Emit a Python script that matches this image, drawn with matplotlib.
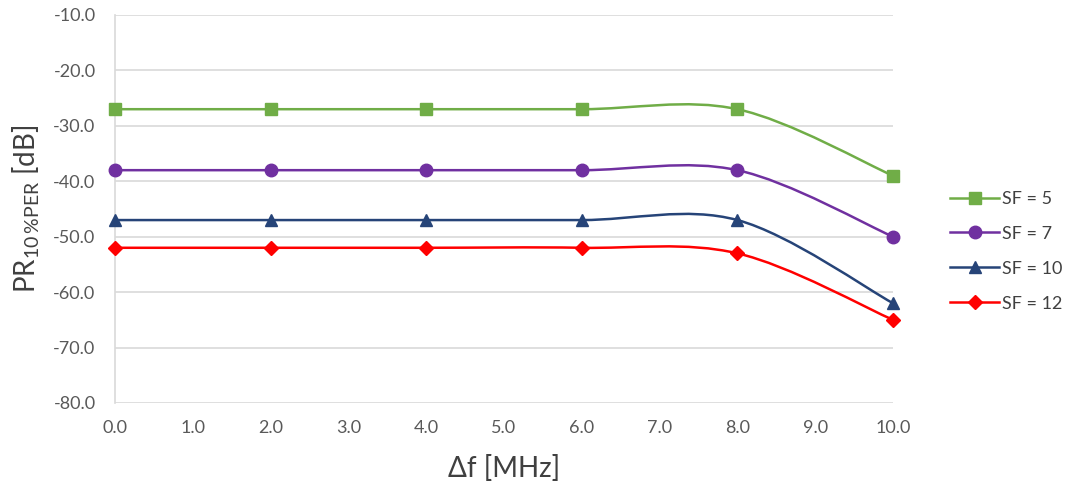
import matplotlib
matplotlib.use("Agg")
import matplotlib.pyplot as plt
from matplotlib.path import Path
from matplotlib.patches import PathPatch
from matplotlib.lines import Line2D
import numpy as np

plt.rcParams['font.family'] = ['Lato', 'DejaVu Sans']

delta_f = [0.0, 2.0, 4.0, 6.0, 8.0, 10.0]
sf5 = [-27, -27, -27, -27, -27, -39]
sf7 = [-38, -38, -38, -38, -38, -50]
sf10 = [-47, -47, -47, -47, -47, -62]
sf12 = [-52, -52, -52, -52, -53, -65]
labels = ["SF = 5", "SF = 7", "SF = 10", "SF = 12"]
x_ticks = [0, 1, 2, 3, 4, 5, 6, 7, 8, 9, 10]
y_ticks = [-80, -70, -60, -50, -40, -30, -20, -10]

series = [sf5, sf7, sf10, sf12]
colors = ["#70AD47", "#7030A0", "#264478", "#FF0000"]
markers = ["s", "o", "^", "D"]
msizes = [8, 9, 9, 7]


def smooth_path(xs, ys):
    x = np.asarray(xs, float)
    y = np.asarray(ys, float)
    n = len(x)
    verts = [(x[0], y[0])]
    codes = [Path.MOVETO]
    for i in range(n - 1):
        i0 = max(i - 1, 0)
        i3 = min(i + 2, n - 1)
        c1 = (x[i] + (x[i + 1] - x[i0]) / 6, y[i] + (y[i + 1] - y[i0]) / 6)
        c2 = (x[i + 1] - (x[i3] - x[i]) / 6, y[i + 1] - (y[i3] - y[i]) / 6)
        verts += [c1, c2, (x[i + 1], y[i + 1])]
        codes += [Path.CURVE4] * 3
    return Path(verts, codes)


fig = plt.figure(figsize=(10.7, 4.86), dpi=100)
ax = fig.add_axes([0.1075, 0.1708, 0.7271, 0.7984])

for ys, c, m, ms, lab in zip(series, colors, markers, msizes, labels):
    patch = PathPatch(smooth_path(delta_f, ys), facecolor="none", edgecolor=c,
                      lw=1.8, zorder=3)
    ax.add_patch(patch)
    ax.plot(delta_f, ys, linestyle="none", marker=m, color=c, ms=ms,
            zorder=4, clip_on=False)

ax.set_xlim(0, 10)
ax.set_ylim(-80, -10)
ax.set_xticks(x_ticks)
ax.set_yticks(y_ticks)
ax.set_xticklabels([f"{v:.1f}" for v in x_ticks])
ax.set_yticklabels([f"{v:.1f}" for v in y_ticks])
ax.tick_params(axis="both", length=0, labelsize=13, colors="#595959")
ax.tick_params(axis="y", pad=14)
ax.tick_params(axis="x", pad=12)
ax.grid(axis="y", color="#D9D9D9", lw=1.2)
ax.set_axisbelow(True)
for s in ["top", "right", "bottom"]:
    ax.spines[s].set_visible(False)
ax.spines["left"].set_color("#D9D9D9")
ax.spines["left"].set_linewidth(1.2)

ax.set_xlabel("Δf [MHz]", fontsize=20, color="#404040", labelpad=14)
ax.set_ylabel(r"PR$\mathregular{_{10\,\%PER}}$ [dB]", fontsize=20,
              color="#404040", labelpad=8)

handles = [Line2D([], [], color=c, marker=m, ms=ms, lw=1.8)
           for c, m, ms in zip(colors, markers, msizes)]
fig.legend(handles, labels, loc="center left", bbox_to_anchor=(0.873, 0.483),
           frameon=False, fontsize=13, labelspacing=1.05, handlelength=2.7,
           handletextpad=0.15, labelcolor="#404040")

fig.savefig("out.png", dpi=100)
